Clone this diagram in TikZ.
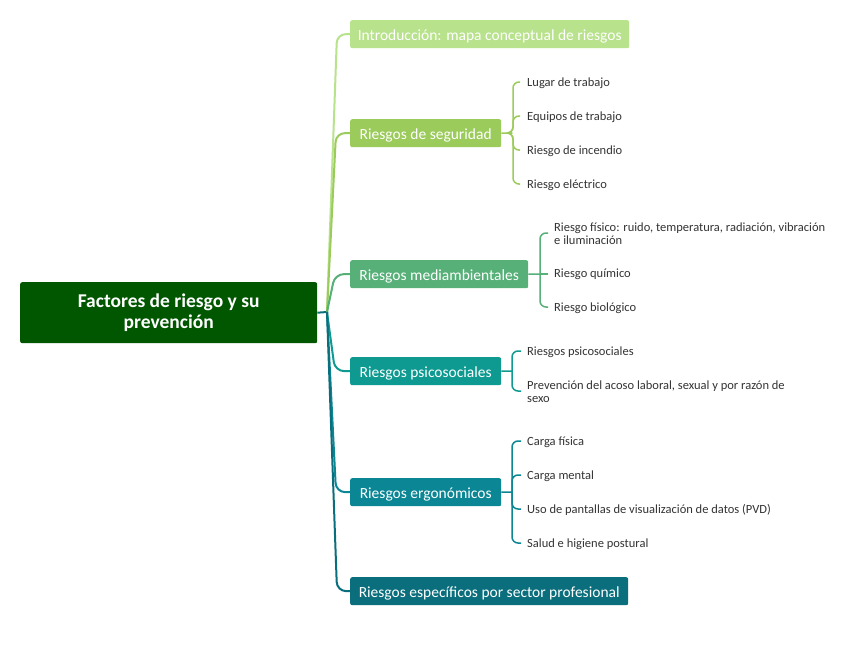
\documentclass[tikz,border=0pt]{standalone}
\usepackage{fontspec}
\setmainfont{Carlito}
\definecolor{cRoot}{HTML}{005700}
\definecolor{cIntro}{HTML}{B8E28C}
\definecolor{cSeg}{HTML}{9BCB5B}
\definecolor{cMed}{HTML}{56B077}
\definecolor{cPsi}{HTML}{0E9A91}
\definecolor{cErg}{HTML}{0B8694}
\definecolor{cEsp}{HTML}{0A6E7C}
\definecolor{cLeaf}{HTML}{333333}
\begin{document}
\begin{tikzpicture}[x=1pt,y=-1pt,
  rootbox/.style={fill=cRoot,text=white,rounded corners=2pt,minimum width=297pt,minimum height=61pt,anchor=north west,align=center,font=\fontsize{19.5}{21}\selectfont\bfseries,inner sep=0pt},
  mainbox/.style={fill=#1,text=white,rounded corners=2pt,minimum height=28pt,anchor=north west,inner sep=0pt,text height=12pt,text depth=0pt,font=\fontsize{15.5}{17}\selectfont},
  leaf/.style={anchor=west,inner sep=0pt,text=cLeaf,font=\fontsize{12.5}{13}\selectfont,align=left},
  mainline/.style={draw=#1,line width=2pt,rounded corners=9pt},
  leafline/.style={draw=#1,line width=1.5pt,rounded corners=6pt}]
\useasboundingbox (0,0) rectangle (848,661);
\fill[white] (0,0) rectangle (848,661);

% root
\node[rootbox] (root) at (20,282) {Factores de riesgo y su\\prevención};
\coordinate (rh) at (327,312);

% main nodes
\node[mainbox=cIntro,minimum width=279pt] (intro) at (350,20) {Introducción: mapa conceptual de riesgos};
\node[mainbox=cSeg,minimum width=151pt] (seg) at (350,119) {Riesgos de seguridad};
\node[mainbox=cMed,minimum width=178pt] (med) at (350,260) {Riesgos mediambientales};
\node[mainbox=cPsi,minimum width=151pt] (psi) at (350,357) {Riesgos psicosociales};
\node[mainbox=cErg,minimum width=151pt] (erg) at (350,478) {Riesgos ergonómicos};
\node[mainbox=cEsp,minimum width=278pt] (esp) at (350,577) {Riesgos específicos por sector profesional};

% root connectors
\draw[line width=2pt,draw=cEsp] (root.east) -- (rh);
\draw[mainline=cIntro] (rh) -- (337,34) -- (intro.west);
\draw[mainline=cSeg] (rh) -- (336,133) -- (seg.west);
\draw[mainline=cMed] (rh) -- (335,274) -- (med.west);
\draw[mainline=cPsi] (rh) -- (335,371) -- (psi.west);
\draw[mainline=cErg] (rh) -- (336,492) -- (erg.west);
\draw[mainline=cEsp] (rh) -- (337,591) -- (esp.west);

% seguridad leaves
\node[leaf] (s1) at (527,83) {Lugar de trabajo};
\node[leaf] (s2) at (527,117) {Equipos de trabajo};
\node[leaf] (s3) at (527,151) {Riesgo de incendio};
\node[leaf] (s4) at (527,185) {Riesgo eléctrico};
\coordinate (sh) at (512,133);
\draw[line width=1.5pt,cSeg] (seg.east) -- (sh);
\foreach \y in {82,116,150,184}
  \draw[leafline=cSeg] (sh) -- (513,133) |- (520,\y);

% mediambientales leaves
\node[leaf] (m1) at (554,233.5) {Riesgo físico: ruido, temperatura, radiación, vibración\\e iluminación};
\node[leaf] (m2) at (554,274) {Riesgo químico};
\node[leaf] (m3) at (554,308) {Riesgo biológico};
\coordinate (mh) at (540,274);
\draw[line width=1.5pt,cMed] (med.east) -- (mh);
\foreach \y in {233,307}
  \draw[leafline=cMed] (mh) |- (548,\y);
\draw[line width=1.5pt,cMed] (mh) -- (548,274);

% psicosociales leaves
\node[leaf] (p1) at (527,352) {Riesgos psicosociales};
\node[leaf] (p2) at (527,391.5) {Prevención del acoso laboral, sexual y por razón de\\sexo};
\coordinate (ph) at (512,371);
\draw[line width=1.5pt,cPsi] (psi.east) -- (ph);
\foreach \y in {351,391}
  \draw[leafline=cPsi] (ph) |- (521,\y);

% ergonómicos leaves
\node[leaf] (e1) at (527,442) {Carga física};
\node[leaf] (e2) at (527,476) {Carga mental};
\node[leaf] (e3) at (527,510) {Uso de pantallas de visualización de datos (PVD)};
\node[leaf] (e4) at (527,544) {Salud e higiene postural};
\coordinate (eh) at (512,492);
\draw[line width=1.5pt,cErg] (erg.east) -- (eh);
\foreach \y in {441,475,509,543}
  \draw[leafline=cErg] (eh) |- (521,\y);
\end{tikzpicture}
\end{document}
